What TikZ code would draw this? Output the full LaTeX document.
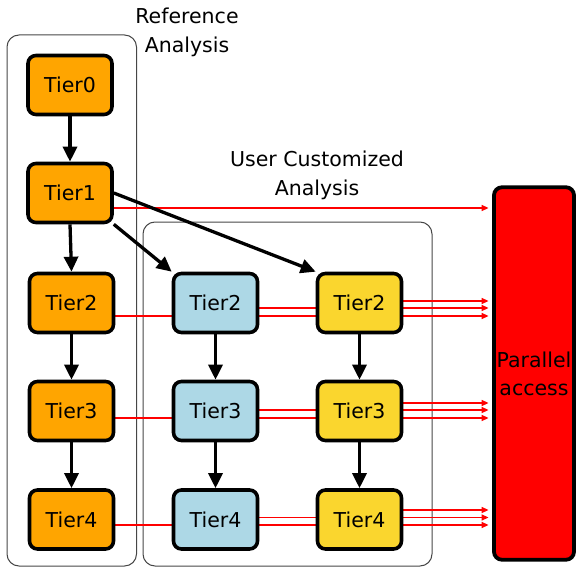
\documentclass[tikz,border=0pt]{standalone}
\usepackage{fontspec}
\setmainfont{DejaVu Sans}
\usetikzlibrary{arrows.meta,backgrounds}

\definecolor{refcol}{RGB}{255,165,0}
\definecolor{usercol}{RGB}{173,216,230}
\definecolor{custcol}{RGB}{250,214,46}
\definecolor{framecol}{RGB}{70,70,70}

\tikzset{
  tier/.style={draw=black, line width=3.6pt, rounded corners=8pt,
    minimum width=84pt, minimum height=59pt, inner sep=0pt,
    font=\fontsize{20.5}{24}\selectfont},
  reftier/.style={tier, fill=refcol},
  usertier/.style={tier, fill=usercol},
  custtier/.style={tier, fill=custcol},
  accessbox/.style={draw=black, fill=red, line width=3.8pt, rounded corners=8pt,
    minimum width=80pt, minimum height=372.5pt, inner sep=0pt, align=center,
    font=\fontsize{20.5}{28}\selectfont},
  title/.style={align=center, font=\fontsize{20.5}{29}\selectfont},
  flow/.style={line width=3.3pt, -{Triangle[length=15pt,width=14pt]}},
  feed/.style={red, line width=1.4pt, shorten >=3.5pt,
    -{Triangle[length=7pt,width=6pt]}},
  group/.style={draw=framecol, line width=1pt, rounded corners=12pt},
}

\begin{document}
\begin{tikzpicture}[x=1pt,y=-1pt]
\useasboundingbox (0,0) rectangle (576,567);

% titles
\node[title] (reftitle) at (187,32) {Reference\\Analysis};
\node[title] (usertitle) at (317,175.5) {User Customized\\Analysis};

% reference analysis column
\node[reftier] (o0) at (70,85) {Tier0};
\node[reftier] (o1) at (70,193) {Tier1};
\node[reftier] (o2) at (71.5,303) {Tier2};
\node[reftier] (o3) at (71.5,411) {Tier3};
\node[reftier] (o4) at (71.5,519.5) {Tier4};

% user customized analysis columns
\node[usertier] (b2) at (215.5,303) {Tier2};
\node[usertier] (b3) at (215.5,411) {Tier3};
\node[usertier] (b4) at (215.5,519.5) {Tier4};
\node[custtier] (y2) at (359.5,303) {Tier2};
\node[custtier] (y3) at (359.5,411) {Tier3};
\node[custtier] (y4) at (359.5,519.5) {Tier4};

% parallel access target
\node[accessbox] (pa) at (534,373.5) {Parallel\\access};

% anchor points of the access lines
\coordinate (r1) at ([yshift=-15pt]o1.east);
\coordinate (ro2) at ([yshift=-13pt]o2.east);
\coordinate (rb2) at ([yshift=-5pt]b2.east);
\coordinate (ry2) at ([yshift=2pt]y2.east);
\coordinate (ro3) at ([yshift=-7pt]o3.east);
\coordinate (rb3) at ([yshift=1pt]b3.east);
\coordinate (ry3) at ([yshift=8pt]y3.east);
\coordinate (ro4) at ([yshift=-5.5pt]o4.east);
\coordinate (rb4) at ([yshift=2pt]b4.east);
\coordinate (ry4) at ([yshift=9.5pt]y4.east);

\begin{scope}[on background layer]
  % group frames
  \draw[group] (7,35) rectangle (136.5,566);
  \draw[group] (143,222) rectangle (432,566);
  % access lines, running behind the tier boxes
  \draw[feed] (r1) -- (r1 -| pa.west);
  \foreach \r in {ro2,rb2,ry2,ro3,rb3,ry3,ro4,rb4,ry4}
    \draw[feed] (\r) -- (\r -| pa.west);
\end{scope}

% tier dependencies
\draw[flow] (o0) -- (o1);
\draw[flow] (o1.south) -- (o2.north);
\draw[flow] (o2) -- (o3);
\draw[flow] (o3) -- (o4);
\draw[flow] (o1.south east) -- (b2.north west);
\draw[flow] (o1.east) -- (y2.north west);
\draw[flow] (b2) -- (b3);
\draw[flow] (b3) -- (b4);
\draw[flow] (y2) -- (y3);
\draw[flow] (y3) -- (y4);
\end{tikzpicture}
\end{document}
